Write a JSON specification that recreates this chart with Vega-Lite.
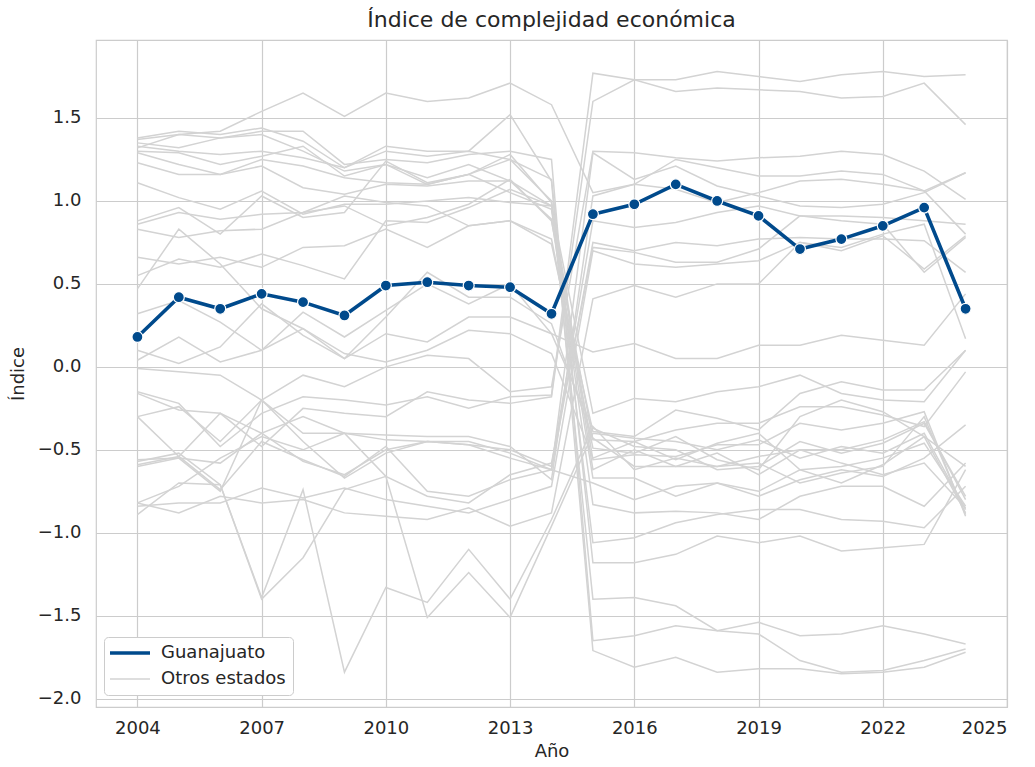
{
  "$schema": "https://vega.github.io/schema/vega-lite/v6.json",
  "autosize": "none",
  "width": 911,
  "height": 667,
  "padding": {"left": 96, "top": 40, "right": 28, "bottom": 60},
  "background": "white",
  "config": {
    "font": "DejaVu Sans",
    "view": {"stroke": "#cccccc", "strokeWidth": 1.2},
    "axis": {
      "labelFontSize": 18, "titleFontSize": 18, "labelColor": "#262626", "titleColor": "#262626",
      "titleFontWeight": "normal", "ticks": false, "domain": false, "gridColor": "#cccccc", "gridWidth": 1.2,
      "labelFont": "DejaVu Sans", "titleFont": "DejaVu Sans"
    },
    "axisX": {"labelPadding": 12, "titlePadding": 5},
    "axisY": {"labelPadding": 15, "titlePadding": 10},
    "legend": {"labelFont": "DejaVu Sans"}
  },
  "title": {"text": "Índice de complejidad económica", "fontSize": 22, "fontWeight": "normal", "color": "#262626", "offset": 8, "anchor": "middle", "font": "DejaVu Sans"},
  "data": {"values": [
    {"anio":2004,"Guanajuato":0.18,"s01":1.32,"s02":1.38,"s03":1.37,"s04":1.35,"s05":1.33,"s06":1.30,"s07":1.29,"s08":1.23,"s09":1.11,"s10":0.88,"s11":0.86,"s12":0.83,"s13":0.66,"s14":0.55,"s15":0.47,"s16":0.32,"s17":0.10,"s18":0.04,"s19":-0.01,"s20":-0.15,"s21":-0.16,"s22":-0.30,"s23":-0.56,"s24":-0.59,"s25":-0.60,"s26":-0.82,"s27":-0.82,"s28":-0.84,"s29":-0.89,"s30":-0.57,"s31":-0.30},
    {"anio":2005,"Guanajuato":0.42,"s01":1.40,"s02":1.42,"s03":1.40,"s04":1.32,"s05":1.30,"s06":1.29,"s07":1.22,"s08":1.16,"s09":1.02,"s10":0.96,"s11":0.93,"s12":0.78,"s13":0.62,"s14":0.65,"s15":0.83,"s16":0.40,"s17":0.02,"s18":0.18,"s19":-0.03,"s20":-0.22,"s21":-0.26,"s22":-0.24,"s23":-0.55,"s24":-0.54,"s25":-0.55,"s26":-0.72,"s27":-0.88,"s28":-0.82,"s29":-0.70,"s30":-0.52,"s31":-0.54},
    {"anio":2006,"Guanajuato":0.35,"s01":1.42,"s02":1.40,"s03":1.38,"s04":1.38,"s05":1.28,"s06":1.22,"s07":1.16,"s08":1.16,"s09":0.95,"s10":0.80,"s11":0.89,"s12":0.82,"s13":0.66,"s14":0.60,"s15":0.62,"s16":0.27,"s17":0.12,"s18":0.03,"s19":-0.05,"s20":-0.48,"s21":-0.28,"s22":-0.45,"s23":-0.58,"s24":-0.28,"s25":-0.75,"s26":-0.55,"s27":-0.78,"s28":-0.82,"s29":-0.71,"s30":-0.71,"s31":-0.74},
    {"anio":2007,"Guanajuato":0.44,"s01":1.54,"s02":1.44,"s03":1.42,"s04":1.40,"s05":1.30,"s06":1.27,"s07":1.25,"s08":1.21,"s09":1.06,"s10":1.03,"s11":0.92,"s12":0.83,"s13":0.60,"s14":0.68,"s15":0.35,"s16":0.10,"s17":0.38,"s18":0.10,"s19":-0.20,"s20":-0.28,"s21":-0.40,"s22":-0.20,"s23":-0.40,"s24":-0.48,"s25":-0.20,"s26":-0.42,"s27":-0.82,"s28":-0.73,"s29":-1.40,"s30":-1.39,"s31":-0.45},
    {"anio":2008,"Guanajuato":0.39,"s01":1.65,"s02":1.36,"s03":1.42,"s04":1.30,"s05":1.26,"s06":1.33,"s07":1.21,"s08":1.08,"s09":0.92,"s10":0.90,"s11":0.93,"s12":0.93,"s13":0.72,"s14":0.61,"s15":0.23,"s16":0.33,"s17":0.19,"s18":0.23,"s19":-0.05,"s20":-0.18,"s21":-0.30,"s22":-0.40,"s23":-0.57,"s24":-0.25,"s25":-0.45,"s26":-0.50,"s27":-0.80,"s28":-0.79,"s29":-1.15,"s30":-0.74,"s31":-0.56},
    {"anio":2009,"Guanajuato":0.31,"s01":1.51,"s02":1.20,"s03":1.22,"s04":1.18,"s05":1.20,"s06":1.15,"s07":1.14,"s08":1.04,"s09":0.98,"s10":0.93,"s11":1.03,"s12":0.97,"s13":0.73,"s14":0.53,"s15":0.05,"s16":0.18,"s17":0.05,"s18":0.08,"s19":-0.12,"s20":-0.20,"s21":-0.40,"s22":-0.40,"s23":-0.65,"s24":-0.28,"s25":-0.67,"s26":-0.40,"s27":-0.88,"s28":-0.73,"s29":-0.74,"s30":-1.84,"s31":-0.66},
    {"anio":2010,"Guanajuato":0.49,"s01":1.65,"s02":1.33,"s03":1.25,"s04":1.22,"s05":1.30,"s06":1.22,"s07":1.11,"s08":1.10,"s09":0.98,"s10":1.24,"s11":0.99,"s12":0.85,"s13":0.83,"s14":0.88,"s15":0.30,"s16":0.34,"s17":0.20,"s18":0.03,"s19":0.00,"s20":-0.23,"s21":-0.44,"s22":-0.41,"s23":-0.50,"s24":-0.30,"s25":-0.52,"s26":-0.66,"s27":-0.90,"s28":-0.80,"s29":-0.66,"s30":-1.33,"s31":-0.48},
    {"anio":2011,"Guanajuato":0.51,"s01":1.60,"s02":1.30,"s03":1.23,"s04":1.10,"s05":1.27,"s06":1.14,"s07":1.10,"s08":1.09,"s09":1.00,"s10":1.11,"s11":0.97,"s12":0.90,"s13":0.72,"s14":0.87,"s15":0.57,"s16":0.50,"s17":0.15,"s18":0.10,"s19":0.07,"s20":-0.18,"s21":-0.45,"s22":-0.42,"s23":-0.45,"s24":-0.15,"s25":-0.45,"s26":-0.78,"s27":-0.92,"s28":-0.84,"s29":-1.51,"s30":-1.42,"s31":-0.75},
    {"anio":2012,"Guanajuato":0.49,"s01":1.62,"s02":1.30,"s03":1.28,"s04":1.16,"s05":1.30,"s06":1.22,"s07":1.16,"s08":1.12,"s09":1.02,"s10":1.16,"s11":0.85,"s12":0.98,"s13":0.85,"s14":0.96,"s15":0.42,"s16":0.38,"s17":0.30,"s18":0.22,"s19":0.05,"s20":-0.25,"s21":-0.45,"s22":-0.42,"s23":-0.47,"s24":-0.20,"s25":-0.47,"s26":-0.82,"s27":-0.85,"s28":-0.88,"s29":-1.24,"s30":-1.10,"s31":-0.78},
    {"anio":2013,"Guanajuato":0.48,"s01":1.71,"s02":1.52,"s03":1.30,"s04":1.28,"s05":1.25,"s06":1.12,"s07":1.05,"s08":1.12,"s09":0.99,"s10":1.25,"s11":0.88,"s12":1.13,"s13":0.88,"s14":1.07,"s15":0.42,"s16":0.50,"s17":0.30,"s18":0.20,"s19":-0.15,"s20":-0.18,"s21":-0.52,"s22":-0.48,"s23":-0.50,"s24":-0.22,"s25":-0.55,"s26":-0.65,"s27":-0.96,"s28":-0.80,"s29":-1.51,"s30":-1.40,"s31":-0.68},
    {"anio":2014,"Guanajuato":0.32,"s01":1.58,"s02":1.12,"s03":1.25,"s04":0.99,"s05":1.13,"s06":0.97,"s07":0.95,"s08":0.89,"s09":0.97,"s10":1.00,"s11":0.77,"s12":0.88,"s13":0.74,"s14":0.97,"s15":0.26,"s16":0.20,"s17":0.20,"s18":0.08,"s19":-0.12,"s20":-0.17,"s21":-0.62,"s22":-0.68,"s23":-0.60,"s24":-0.18,"s25":-0.62,"s26":-0.58,"s27":-0.88,"s28":-0.72,"s29":-0.96,"s30":-0.92,"s31":-0.62},
    {"anio":2015,"Guanajuato":0.92,"s01":1.05,"s02":-1.71,"s03":-1.65,"s04":-1.40,"s05":-1.18,"s06":-1.06,"s07":-0.83,"s08":-0.67,"s09":-0.62,"s10":-0.56,"s11":-0.49,"s12":-0.44,"s13":-0.39,"s14":-0.28,"s15":-0.43,"s16":0.09,"s17":-0.37,"s18":-0.55,"s19":1.30,"s20":1.77,"s21":1.29,"s22":1.03,"s23":0.88,"s24":1.60,"s25":0.75,"s26":0.72,"s27":0.41,"s28":0.70,"s29":-0.40,"s30":-0.36,"s31":-0.70},
    {"anio":2016,"Guanajuato":0.98,"s01":1.10,"s02":-1.81,"s03":-1.62,"s04":-1.39,"s05":-1.18,"s06":-1.03,"s07":-0.88,"s08":-0.67,"s09":-0.50,"s10":-0.53,"s11":-0.52,"s12":-0.45,"s13":-0.42,"s14":-0.19,"s15":-0.60,"s16":0.14,"s17":-0.48,"s18":-0.45,"s19":1.29,"s20":1.73,"s21":1.13,"s22":1.10,"s23":0.84,"s24":1.73,"s25":0.70,"s26":0.69,"s27":0.49,"s28":0.62,"s29":-0.43,"s30":-0.62,"s31":-0.80},
    {"anio":2017,"Guanajuato":1.10,"s01":1.25,"s02":-1.75,"s03":-1.56,"s04":-1.44,"s05":-1.13,"s06":-0.94,"s07":-0.87,"s08":-0.78,"s09":-0.60,"s10":-0.54,"s11":-0.42,"s12":-0.38,"s13":-0.26,"s14":-0.21,"s15":-0.60,"s16":0.05,"s17":-0.50,"s18":-0.56,"s19":1.26,"s20":1.73,"s21":1.21,"s22":1.07,"s23":0.87,"s24":1.66,"s25":0.75,"s26":0.63,"s27":0.42,"s28":0.60,"s29":-0.45,"s30":-0.55,"s31":-0.72},
    {"anio":2018,"Guanajuato":1.00,"s01":1.20,"s02":-1.84,"s03":-1.59,"s04":-1.59,"s05":-1.02,"s06":-0.89,"s07":-0.88,"s08":-0.70,"s09":-0.60,"s10":-0.47,"s11":-0.56,"s12":-0.34,"s13":-0.31,"s14":-0.15,"s15":-0.52,"s16":0.05,"s17":-0.62,"s18":-0.46,"s19":1.24,"s20":1.78,"s21":1.09,"s22":0.99,"s23":0.93,"s24":1.68,"s25":0.73,"s26":0.63,"s27":0.50,"s28":0.62,"s29":-0.50,"s30":-0.60,"s31":-0.70},
    {"anio":2019,"Guanajuato":0.91,"s01":1.15,"s02":-1.82,"s03":-1.61,"s04":-1.54,"s05":-1.06,"s06":-0.86,"s07":-0.92,"s08":-0.75,"s09":-0.54,"s10":-0.47,"s11":-0.62,"s12":-0.34,"s13":-0.38,"s14":-0.12,"s15":-0.65,"s16":0.13,"s17":-0.60,"s18":-0.40,"s19":1.26,"s20":1.75,"s21":1.03,"s22":1.05,"s23":0.97,"s24":1.67,"s25":0.77,"s26":0.71,"s27":0.50,"s28":0.64,"s29":-0.44,"s30":-0.58,"s31":-0.78},
    {"anio":2020,"Guanajuato":0.71,"s01":1.15,"s02":-1.82,"s03":-1.77,"s04":-1.62,"s05":-1.02,"s06":-0.86,"s07":-0.78,"s08":-0.62,"s09":-0.50,"s10":-0.34,"s11":-0.30,"s12":-0.24,"s13":-0.16,"s14":-0.05,"s15":-0.50,"s16":0.13,"s17":-0.45,"s18":-0.62,"s19":1.27,"s20":1.72,"s21":0.97,"s22":1.12,"s23":0.91,"s24":1.66,"s25":0.78,"s26":0.91,"s27":0.75,"s28":0.75,"s29":-0.55,"s30":-0.70,"s31":-0.68},
    {"anio":2021,"Guanajuato":0.77,"s01":1.18,"s02":-1.85,"s03":-1.84,"s04":-1.61,"s05":-1.11,"s06":-0.92,"s07":-0.72,"s08":-0.70,"s09":-0.50,"s10":-0.38,"s11":-0.20,"s12":-0.24,"s13":-0.09,"s14":-0.16,"s15":-0.58,"s16":0.19,"s17":-0.52,"s18":-0.60,"s19":1.30,"s20":1.76,"s21":0.96,"s22":1.13,"s23":0.91,"s24":1.62,"s25":0.77,"s26":0.88,"s27":0.70,"s28":0.72,"s29":-0.48,"s30":-0.64,"s31":-0.62},
    {"anio":2022,"Guanajuato":0.85,"s01":1.16,"s02":-1.84,"s03":-1.83,"s04":-1.56,"s05":-1.09,"s06":-0.93,"s07":-0.72,"s08":-0.59,"s09":-0.44,"s10":-0.34,"s11":-0.27,"s12":-0.29,"s13":-0.14,"s14":-0.20,"s15":-0.65,"s16":0.16,"s17":-0.46,"s18":-0.55,"s19":1.28,"s20":1.78,"s21":0.98,"s22":1.10,"s23":0.90,"s24":1.63,"s25":0.77,"s26":0.86,"s27":0.79,"s28":0.80,"s29":-0.52,"s30":-0.60,"s31":-0.66},
    {"anio":2023,"Guanajuato":0.96,"s01":1.06,"s02":-1.81,"s03":-1.77,"s04":-1.61,"s05":-1.07,"s06":-0.97,"s07":-0.84,"s08":-0.42,"s09":-0.33,"s10":-0.27,"s11":-0.42,"s12":-0.36,"s13":-0.14,"s14":-0.21,"s15":-0.58,"s16":0.13,"s17":-0.34,"s18":-0.46,"s19":1.18,"s20":1.75,"s21":1.05,"s22":1.06,"s23":0.88,"s24":1.71,"s25":0.76,"s26":0.57,"s27":0.59,"s28":0.86,"s29":-0.40,"s30":-0.30,"s31":-0.55},
    {"anio":2024,"Guanajuato":0.35,"s01":1.17,"s02":-1.72,"s03":-1.70,"s04":-1.67,"s05":-0.62,"s06":-0.72,"s07":-0.58,"s08":-0.88,"s09":-0.80,"s10":-0.90,"s11":-0.60,"s12":-0.03,"s13":0.10,"s14":0.10,"s15":-0.85,"s16":0.44,"s17":-0.78,"s18":-0.84,"s19":1.01,"s20":1.76,"s21":1.17,"s22":0.80,"s23":0.86,"s24":1.46,"s25":0.57,"s26":0.78,"s27":0.79,"s28":0.17,"s29":-0.86,"s30":-0.89,"s31":-0.35}
  ]},
  "encoding": {
    "x": {"field": "anio", "type": "quantitative", "scale": {"domain": [2003, 2025], "nice": false, "zero": false},
          "axis": {"title": "Año", "values": [2004, 2007, 2010, 2013, 2016, 2019, 2022, 2025], "format": "d"}}
  },
  "layer": [
    {
      "transform": [{"fold": ["s01","s02","s03","s04","s05","s06","s07","s08","s09","s10","s11","s12","s13","s14","s15","s16","s17","s18","s19","s20","s21","s22","s23","s24","s25","s26","s27","s28","s29","s30","s31"], "as": ["estado", "indice"]}],
      "mark": {"type": "line", "strokeWidth": 1.5},
      "encoding": {
        "y": {"field": "indice", "type": "quantitative", "scale": {"domain": [-2.05, 1.97], "nice": false, "zero": false},
              "axis": {"title": "Índice", "values": [-2, -1.5, -1, -0.5, 0, 0.5, 1, 1.5], "format": ".1f"}},
        "detail": {"field": "estado"},
        "color": {"datum": "Otros estados", "type": "nominal",
                  "scale": {"domain": ["Guanajuato", "Otros estados"], "range": ["#004a8c", "#d3d3d3"]},
                  "legend": {"title": null, "orient": "none", "legendX": 8, "legendY": 597, "symbolType": "stroke",
                             "symbolSize": 1600, "symbolOffset": 10, "labelFontSize": 18, "labelColor": "#262626", "fillColor": "white",
                             "strokeColor": "#cccccc", "cornerRadius": 4, "padding": 7, "rowPadding": 8, "labelOffset": 22,
                             "encode": {"symbols": {"update": {"strokeWidth": {"signal": "datum.value === 'Guanajuato' ? 3.5 : 1.5"}}}}}}
      }
    },
    {
      "mark": {"type": "line", "strokeWidth": 3.6},
      "encoding": {
        "y": {"field": "Guanajuato", "type": "quantitative"},
        "color": {"datum": "Guanajuato", "type": "nominal"}
      }
    },
    {
      "mark": {"type": "point", "filled": true, "size": 120, "fill": "#004a8c", "stroke": "white", "strokeWidth": 1.2, "opacity": 1},
      "encoding": {
        "y": {"field": "Guanajuato", "type": "quantitative"}
      }
    }
  ]
}
